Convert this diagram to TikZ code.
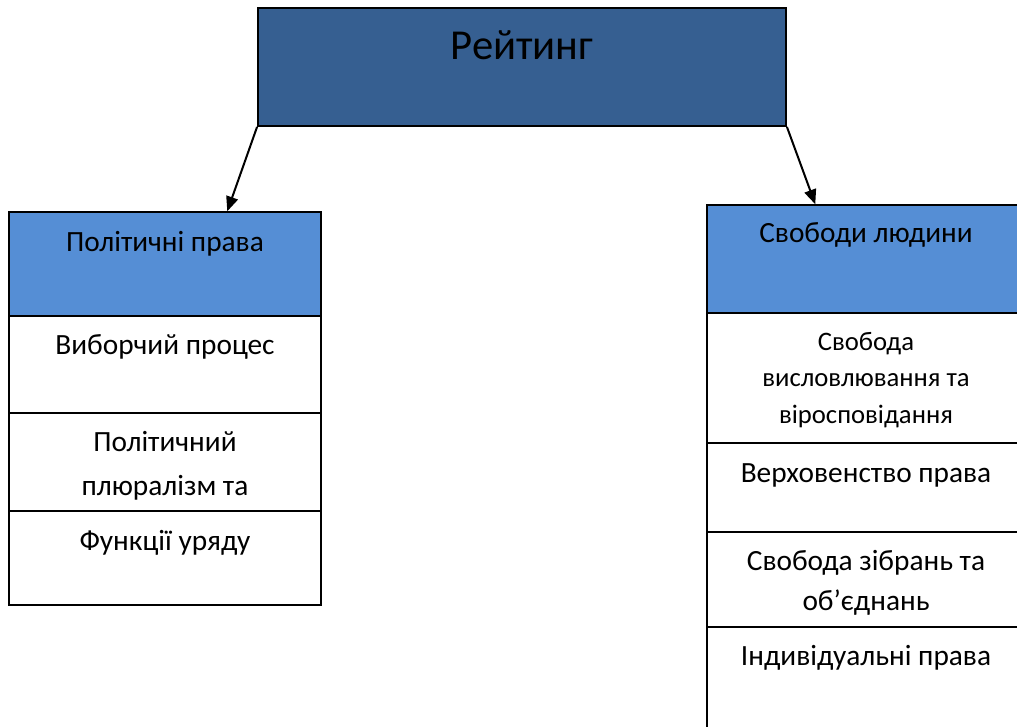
\documentclass[tikz,border=0pt]{standalone}
\usepackage{fontspec}
\setmainfont{Carlito}
\usetikzlibrary{fit,arrows.meta,calc}
\definecolor{topblue}{HTML}{365F91}
\definecolor{headblue}{HTML}{558ED5}
\tikzset{
  cell/.style={draw=black, line width=1.1pt, inner sep=0pt, fill=white},
  head/.style={cell, fill=headblue},
  topbox/.style={draw=black, line width=1.4pt, inner sep=0pt, fill=topblue},
  txt/.style={anchor=base, inner sep=0pt, font=\fontsize{22pt}{26pt}\selectfont},
  small/.style={anchor=base, inner sep=0pt, font=\fontsize{20pt}{24pt}\selectfont},
  title/.style={anchor=base, inner sep=0pt, font=\fontsize{32pt}{38pt}\selectfont},
  conn/.style={line width=1.5pt, -{Triangle[length=11pt,width=9pt]}}
}
\begin{document}
\begin{tikzpicture}[x=0.75pt,y=-0.75pt]
\useasboundingbox (0,0) rectangle (1017,727);
% top box
\node[topbox, fit={(258,8)(786,126)}] (top) {};
\node[title] (ttl) at (522,60) {Рейтинг};
% left column
\node[head, fit={(9,212)(321,316)}] (lh) {};
\node[cell, fit={(9,316)(321,413)}] (l1) {};
\node[cell, fit={(9,413)(321,511)}] (l2) {};
\node[cell, fit={(9,511)(321,605)}] (l3) {};
\node[txt] (lht) at (165,252) {Політичні права};
\node[txt] (l1t) at (165,354) {Виборчий процес};
\node[txt] (l2a) at (165,451) {Політичний};
\node[txt] (l2b) at (165,495) {плюралізм та};
\node[txt] (l3t) at (165,550) {Функції уряду};
% right column
\node[head, fit={(707,205)(1030,313)}] (rh) {};
\node[cell, fit={(707,313)(1030,443)}] (r1) {};
\node[cell, fit={(707,443)(1030,532)}] (r2) {};
\node[cell, fit={(707,532)(1030,627)}] (r3) {};
\node[cell, fit={(707,627)(1030,740)}] (r4) {};
\node[txt] (rht) at (866,243) {Свободи людини};
\node[small] (r1a) at (866,350) {Свобода};
\node[small] (r1b) at (866,386) {висловлювання та};
\node[small] (r1c) at (866,423) {віросповідання};
\node[txt] (r2t) at (866,482) {Верховенство права};
\node[txt] (r3a) at (866,570) {Свобода зібрань та};
\node[txt] (r3b) at (866,610) {об’єднань};
\node[txt] (r4t) at (866,665) {Індивідуальні права};
% connectors
\draw[conn] (top.south west) -- ($(lh.north west)+(219,0)$);
\draw[conn] (top.south east) -- ($(rh.north west)+(109,0)$);
\end{tikzpicture}
\end{document}
